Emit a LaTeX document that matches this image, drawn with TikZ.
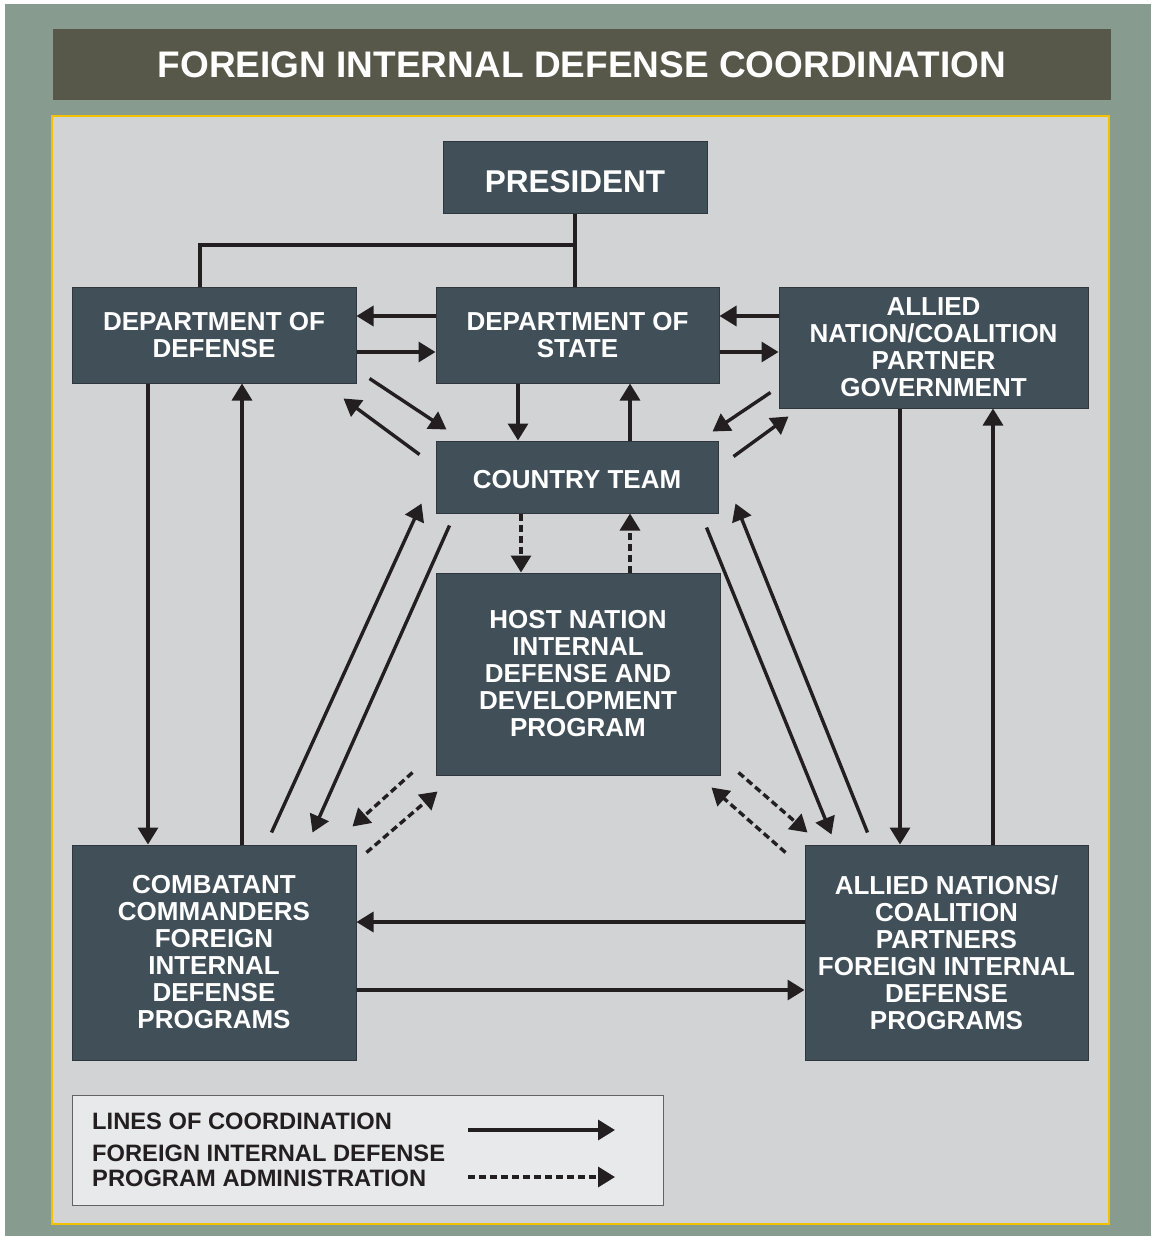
\documentclass[tikz,border=0pt]{standalone}
\usepackage{fontspec}
\setmainfont{Liberation Sans}
\usetikzlibrary{arrows.meta,positioning}
\definecolor{outerbg}{HTML}{889B8F}
\definecolor{titlebg}{HTML}{58584A}
\definecolor{panel}{HTML}{D2D3D5}
\definecolor{panelline}{HTML}{F2C200}
\definecolor{boxfill}{HTML}{414F59}
\definecolor{boxline}{HTML}{2E373D}
\definecolor{legendfill}{HTML}{E8E9EA}
\definecolor{ink}{HTML}{231F20}
\tikzset{
  fidbox/.style={draw=boxline, line width=1pt, fill=boxfill, text=white, align=center,
    inner sep=0pt, font=\bfseries\fontsize{26}{27}\selectfont},
  legtext/.style={text=ink, inner sep=0pt, align=left, font=\bfseries\fontsize{23.7}{25}\selectfont},
  link/.style={draw=ink, line width=3.4pt},
  arr/.style={link, -{Triangle[length=17pt,width=20pt]}},
  dasharr/.style={arr, dash pattern=on 7pt off 4pt}
}
\begin{document}
\begin{tikzpicture}[x=1pt,y=-1pt]
\useasboundingbox (0,0) rectangle (1151,1236);
\fill[white] (0,0) rectangle (1151,1236);
\fill[outerbg] (5,4) rectangle (1151,1236);
% title and panel
\node[fill=titlebg, text=white, minimum width=1058pt, minimum height=71pt, inner sep=0pt,
  font=\bfseries\fontsize{37}{40}\selectfont] (title) at (582,64.5) {FOREIGN INTERNAL DEFENSE COORDINATION};
\draw[panelline, fill=panel, line width=1.5pt] (52,116) rectangle (1109,1224);

% boxes
\node[fidbox, minimum width=264pt, minimum height=72pt, font=\bfseries\fontsize{31.5}{33}\selectfont] (pres) at (575,177) {\raisebox{-4pt}[22.5pt][0pt]{PRESIDENT}};
\node[fidbox, minimum width=284pt, minimum height=96pt] (dod) at (214,335) {DEPARTMENT OF\\DEFENSE};
\node[fidbox, minimum width=283pt, minimum height=96pt] (dos) at (577.5,335) {DEPARTMENT OF\\STATE};
\node[fidbox, minimum width=309pt, minimum height=121pt] (ally) at (933.5,347.5) {ALLIED\\NATION/COALITION\\PARTNER\\GOVERNMENT};
\node[fidbox, minimum width=282pt, minimum height=72pt] (ct) at (577,477) {\raisebox{-2pt}[18.6pt][0pt]{COUNTRY TEAM}};
\node[fidbox, minimum width=284pt, minimum height=202pt] (hn) at (578,674) {HOST NATION\\INTERNAL\\DEFENSE AND\\DEVELOPMENT\\PROGRAM};
\node[fidbox, minimum width=284pt, minimum height=215pt] (ccdr) at (214,952.5) {COMBATANT\\COMMANDERS\\FOREIGN\\INTERNAL\\DEFENSE\\PROGRAMS};
\node[fidbox, minimum width=283pt, minimum height=215pt] (afid) at (946.5,952.5) {ALLIED NATIONS/\\COALITION\\PARTNERS\\FOREIGN INTERNAL\\DEFENSE\\PROGRAMS};

% president lines
\draw[link] (pres.south) -- (pres.south |- dos.north);
\draw[link] (pres.south |- 0,245) -| ([xshift=-14pt]dod.north);

% top row
\draw[arr] (dos.west |- 0,316) -- (dod.east |- 0,316);
\draw[arr] (dod.east |- 0,352) -- (dos.west |- 0,352);
\draw[arr] (ally.west |- 0,316) -- (dos.east |- 0,316);
\draw[arr] (dos.east |- 0,352) -- (ally.west |- 0,352);
\draw[arr] (518,0 |- dos.south) -- (518,0 |- ct.north);
\draw[arr] (630,0 |- ct.north) -- (630,0 |- dos.south);

% diagonals to country team
\draw[arr] ([shift={(13,-5)}]dod.south east) -- ([shift={(11,-11)}]ct.north west);
\draw[arr] ([shift={(-16,14)}]ct.north west) -- ([shift={(-13,15)}]dod.south east);
\draw[arr] ([shift={(-8,-16)}]ally.south west) -- ([shift={(-6,-9)}]ct.north east);
\draw[arr] ([shift={(15,16)}]ct.north east) -- ([shift={(10,8)}]ally.south west);

% country team and host nation
\draw[dasharr] (521,0 |- ct.south) -- (521,0 |- hn.north);
\draw[dasharr] (630,0 |- hn.north) -- (630,0 |- ct.south);

% long diagonals
\draw[arr] ([shift={(-85,-12)}]ccdr.north east) -- ([shift={(-14,-10)}]ct.south west);
\draw[arr] ([shift={(14,12)}]ct.south west) -- ([shift={(-44,-12)}]ccdr.north east);
\draw[arr] ([shift={(-12,14)}]ct.south east) -- ([shift={(27,-10)}]afid.north west);
\draw[arr] ([shift={(63,-12)}]afid.north west) -- ([shift={(17,-10)}]ct.south east);

% host nation diagonals
\draw[dasharr] ([shift={(-23,-3)}]hn.south west) -- ([shift={(-4,-18)}]ccdr.north east);
\draw[dasharr] ([shift={(10,8)}]ccdr.north east) -- ([shift={(2,16)}]hn.south west);
\draw[dasharr] ([shift={(18,-3)}]hn.south east) -- ([shift={(3,-12)}]afid.north west);
\draw[dasharr] ([shift={(-19,8)}]afid.north west) -- ([shift={(-9,12)}]hn.south east);

% sides and bottom
\draw[arr] (148,0 |- dod.south) -- (148,0 |- ccdr.north);
\draw[arr] (242,0 |- ccdr.north) -- (242,0 |- dod.south);
\draw[arr] (900,0 |- ally.south) -- (900,0 |- afid.north);
\draw[arr] (993,0 |- afid.north) -- (993,0 |- ally.south);
\draw[arr] (afid.west |- 0,922) -- (ccdr.east |- 0,922);
\draw[arr] (ccdr.east |- 0,990) -- (afid.west |- 0,990);

% legend
\node[draw=ink!70, fill=legendfill, line width=1pt, minimum width=591pt, minimum height=110pt, inner sep=0pt] (legend) at (367.5,1150) {};
\node[legtext, anchor=west] (lcoord) at (92,1121) {LINES OF COORDINATION};
\node[legtext, anchor=west] (ladmin) at (92,1165.5) {FOREIGN INTERNAL DEFENSE\\PROGRAM ADMINISTRATION};
\coordinate (s1) at (468,1130);
\coordinate (s2) at (615,1130);
\coordinate (d1) at (468,1177);
\coordinate (d2) at (615,1177);
\draw[arr] (s1) -- (s2);
\draw[dasharr] (d1) -- (d2);
\end{tikzpicture}
\end{document}
